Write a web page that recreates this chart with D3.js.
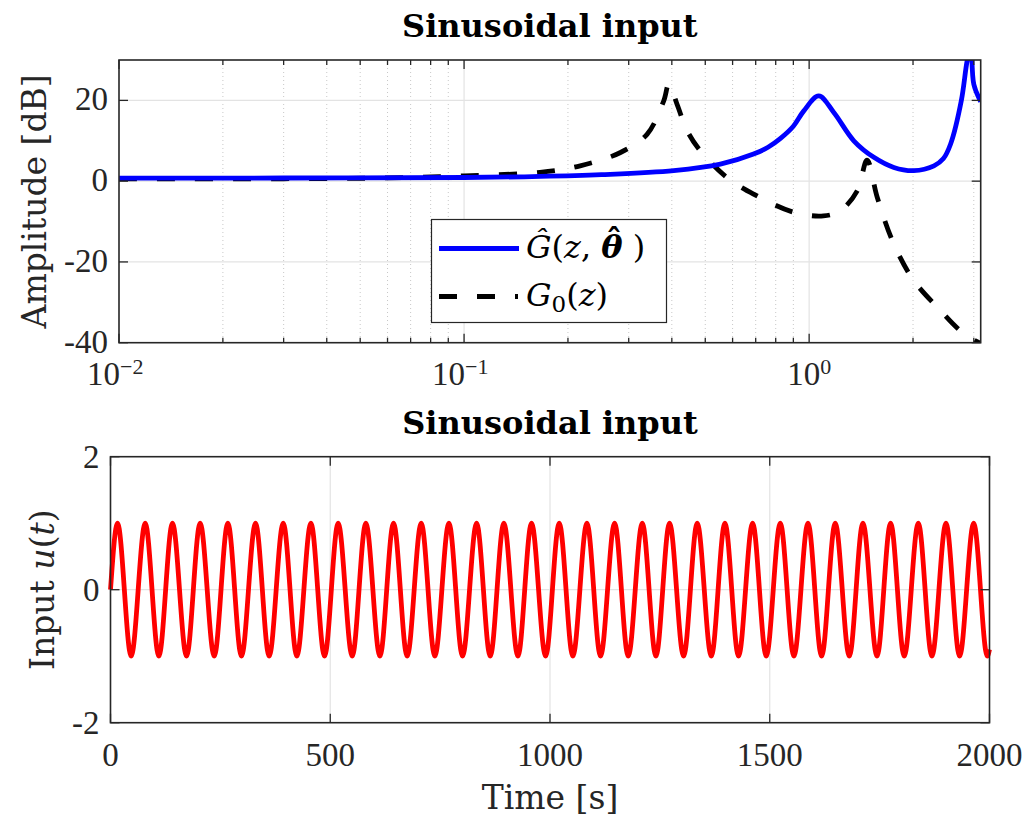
<!DOCTYPE html>
<html>
<head>
<meta charset="utf-8">
<script src="https://cdn.jsdelivr.net/npm/d3@7"></script>
<style>
  body { margin: 0; background: #fff; }
  svg { display: block; }
  .tick-label { font-family: "Liberation Serif", serif; font-size: 33px; fill: #262626; }
  .axis-label { font-family: "DejaVu Serif", serif; font-size: 33px; fill: #262626; }
  .title { font-family: "DejaVu Serif", serif; font-size: 32px; font-weight: bold; fill: #000; }
  .legend-text { font-family: "DejaVu Serif", serif; font-size: 32px; fill: #000; }
</style>
</head>
<body>
<svg id="chart" width="1028" height="820"></svg>
<script>

//////////////// DATA ////////////////

// Frequency response (frequency in rad/sample, amplitude in dB)
var estFreq = [0.01, 0.03, 0.1, 0.166, 0.25, 0.405, 0.553, 0.69, 0.76, 0.826, 0.9, 0.965, 1.066, 1.179,
               1.347, 1.54, 1.76, 2.01, 2.30, 2.45, 2.57, 2.76, 2.87, 2.94, 3.0, 3.1416];
var estAmp  = [0.75, 0.78, 0.9, 1.16, 1.6, 2.6, 4.2, 6.7, 8.4, 10.6, 13.6, 17.4, 21.1, 17.0,
               10.0, 5.9, 3.4, 2.6, 3.8, 5.6, 9.2, 19.9, 29.8, 33.5, 24.0, 19.7];

var trueFreq = [0.01, 0.03, 0.06, 0.1, 0.166, 0.217, 0.284, 0.339, 0.379, 0.392, 0.414, 0.443,
                0.484, 0.578, 0.69, 0.902, 1.10, 1.233, 1.378, 1.472, 1.575, 1.76, 2.01, 2.40,
                2.74, 3.0, 3.1416];
var trueAmp  = [0.55, 0.6, 0.8, 1.3, 2.2, 3.8, 7.1, 11.6, 19.9, 24.0, 19.1, 12.5,
                7.5, 0.9, -3.2, -7.7, -8.6, -7.3, -2.4, 5.2, -4.0, -15.6, -24.6, -32.0,
                -37.0, -39.3, -40.2];

// Input signal: start, every peak / trough, end
var inputTime = [0, 16, 47, 79, 110, 141, 173, 204, 236, 267, 298, 330, 361, 393, 424, 456, 487,
                 518, 550, 581, 613, 644, 675, 707, 738, 770, 801, 833, 864, 895, 927, 958, 990,
                 1021, 1052, 1084, 1115, 1147, 1178, 1210, 1241, 1272, 1304, 1335, 1367, 1398, 1429,
                 1461, 1492, 1524, 1555, 1587, 1618, 1649, 1681, 1712, 1744, 1775, 1806, 1838, 1869,
                 1901, 1932, 1964, 1995, 2000];
var inputValue = [0, 1, -1, 1, -1, 1, -1, 1, -1, 1, -1, 1, -1, 1, -1, 1, -1,
                  1, -1, 1, -1, 1, -1, 1, -1, 1, -1, 1, -1, 1, -1, 1, -1,
                  1, -1, 1, -1, 1, -1, 1, -1, 1, -1, 1, -1, 1, -1,
                  1, -1, 1, -1, 1, -1, 1, -1, 1, -1, 1, -1, 1, -1,
                  1, -1, 1, -1, -0.9];

// Axis limits and ticks
var freqDomain = [0.01, 3.1416],
    ampDomain = [-40, 30],
    ampTicks = [-40, -20, 0, 20],
    freqTickExp = [-2, -1, 0],
    timeDomain = [0, 2000],
    timeTicks = [0, 500, 1000, 1500, 2000],
    inputDomain = [-2, 2],
    inputTicks = [-2, 0, 2];

var titleText = "Sinusoidal input";

//////////////// LAYOUT ////////////////

var axisColor = "#262626",
    gridColor = "#e3e3e3",
    minorGridColor = "#c8c8c8",
    lineWidth = 4.8,
    dashes = "18,20";

var boxA = {left: 119, right: 980.7, top: 60, bottom: 342.7};
var boxB = {left: 110.5, right: 989.5, top: 456.7, bottom: 722.7};

var svg = d3.select("#chart");

var xFreq = d3.scaleLog().domain(freqDomain).range([boxA.left, boxA.right]);
var yAmp = d3.scaleLinear().domain(ampDomain).range([boxA.bottom, boxA.top]);
var xTime = d3.scaleLinear().domain(timeDomain).range([boxB.left, boxB.right]);
var yInput = d3.scaleLinear().domain(inputDomain).range([boxB.bottom, boxB.top]);

var defs = svg.append("defs");
defs.append("clipPath").attr("id", "clipA").append("rect")
    .attr("x", boxA.left).attr("y", boxA.top)
    .attr("width", boxA.right - boxA.left).attr("height", boxA.bottom - boxA.top);
defs.append("clipPath").attr("id", "clipB").append("rect")
    .attr("x", boxB.left - 3).attr("y", boxB.top)
    .attr("width", boxB.right - boxB.left + 6).attr("height", boxB.bottom - boxB.top);

//////////////// TOP: FREQUENCY RESPONSE ////////////////

var allFreqTicks = xFreq.ticks();
var majorFreq = freqTickExp.map(function(e) { return Math.pow(10, e); });
var isMajor = function(f) {
    return majorFreq.some(function(m) { return Math.abs(f / m - 1) < 1e-6; });
};
var minorFreq = allFreqTicks.filter(function(f) { return !isMajor(f); });

var gA = svg.append("g");

// minor grid (dotted)
gA.selectAll(".minor-grid").data(minorFreq).enter().append("line")
    .attr("x1", function(d) { return xFreq(d); }).attr("x2", function(d) { return xFreq(d); })
    .attr("y1", boxA.top).attr("y2", boxA.bottom)
    .attr("stroke", minorGridColor).attr("stroke-width", 1).attr("stroke-dasharray", "1,3");

// major grid
gA.selectAll(".major-grid-x").data(majorFreq.slice(1)).enter().append("line")
    .attr("x1", function(d) { return xFreq(d); }).attr("x2", function(d) { return xFreq(d); })
    .attr("y1", boxA.top).attr("y2", boxA.bottom)
    .attr("stroke", gridColor).attr("stroke-width", 1.2);
gA.selectAll(".major-grid-y").data(ampTicks.slice(1)).enter().append("line")
    .attr("x1", boxA.left).attr("x2", boxA.right)
    .attr("y1", function(d) { return yAmp(d); }).attr("y2", function(d) { return yAmp(d); })
    .attr("stroke", gridColor).attr("stroke-width", 1.2);

// curves
var freqLine = d3.line()
    .x(function(d) { return xFreq(d[0]); })
    .y(function(d) { return yAmp(d[1]); })
    .curve(d3.curveCatmullRom.alpha(0.5));

var curves = gA.append("g").attr("clip-path", "url(#clipA)");
curves.append("path")
    .datum(d3.zip(trueFreq, trueAmp))
    .attr("d", freqLine)
    .attr("fill", "none").attr("stroke", "#000")
    .attr("stroke-width", lineWidth).attr("stroke-dasharray", dashes);
curves.append("path")
    .datum(d3.zip(estFreq, estAmp))
    .attr("d", freqLine)
    .attr("fill", "none").attr("stroke", "#0000ff")
    .attr("stroke-width", lineWidth);

// ticks inside the box, all four sides
var ticksA = gA.append("g").attr("stroke", axisColor).attr("stroke-width", 1.3);
allFreqTicks.forEach(function(f) {
    var len = isMajor(f) ? 9 : 5;
    ticksA.append("line").attr("x1", xFreq(f)).attr("x2", xFreq(f))
        .attr("y1", boxA.bottom).attr("y2", boxA.bottom - len);
    ticksA.append("line").attr("x1", xFreq(f)).attr("x2", xFreq(f))
        .attr("y1", boxA.top).attr("y2", boxA.top + len);
});
ampTicks.forEach(function(a) {
    ticksA.append("line").attr("x1", boxA.left).attr("x2", boxA.left + 9)
        .attr("y1", yAmp(a)).attr("y2", yAmp(a));
    ticksA.append("line").attr("x1", boxA.right).attr("x2", boxA.right - 9)
        .attr("y1", yAmp(a)).attr("y2", yAmp(a));
});

gA.append("rect")
    .attr("x", boxA.left).attr("y", boxA.top)
    .attr("width", boxA.right - boxA.left).attr("height", boxA.bottom - boxA.top)
    .attr("fill", "none").attr("stroke", axisColor).attr("stroke-width", 1.6);

// tick labels
gA.selectAll(".amp-label").data(ampTicks).enter().append("text")
    .attr("class", "tick-label")
    .attr("x", boxA.left - 11).attr("y", function(d) { return yAmp(d) + 10; })
    .attr("text-anchor", "end")
    .text(function(d) { return d; });

freqTickExp.forEach(function(e) {
    var t = gA.append("text").attr("class", "tick-label")
        .attr("x", xFreq(Math.pow(10, e)) - 32 + (e === 0 ? 10 : 0)).attr("y", 385);
    t.append("tspan").text("10");
    t.append("tspan").attr("font-size", "22px").attr("dy", -11)
        .text(e < 0 ? "\u2212" + (-e) : e);
});

// axis label + title
gA.append("text").attr("class", "axis-label")
    .attr("transform", "translate(46," + ((boxA.top + boxA.bottom) / 2) + ") rotate(-90)")
    .attr("text-anchor", "middle")
    .text("Amplitude [dB]");

gA.append("text").attr("class", "title")
    .attr("x", (boxA.left + boxA.right) / 2).attr("y", 37)
    .attr("text-anchor", "middle")
    .text(titleText);

// legend
var legend = gA.append("g");
legend.append("rect")
    .attr("x", 431.5).attr("y", 219.5).attr("width", 235).attr("height", 103)
    .attr("fill", "#fff").attr("stroke", axisColor).attr("stroke-width", 1.2);
legend.append("line")
    .attr("x1", 439).attr("x2", 519).attr("y1", 248.5).attr("y2", 248.5)
    .attr("stroke", "#0000ff").attr("stroke-width", lineWidth);
legend.append("line")
    .attr("x1", 439).attr("x2", 518).attr("y1", 296.5).attr("y2", 296.5)
    .attr("stroke", "#000").attr("stroke-width", lineWidth).attr("stroke-dasharray", dashes);

var l1 = legend.append("text").attr("class", "legend-text").attr("x", 526).attr("y", 258);
l1.append("tspan").attr("font-style", "italic").text("\u011C");
l1.append("tspan").text("(");
l1.append("tspan").attr("font-style", "italic").text("z");
l1.append("tspan").text(", ");
l1.append("tspan").attr("font-style", "italic").attr("font-weight", "bold").text("\u03B8");
// hat over the bold theta, kept inside the same text element
var thetaW = l1.node().getExtentOfChar(5).width;
var hat = l1.append("tspan").attr("font-weight", "bold").attr("dy", -6).text("\u02C6");
var hatW = hat.node().getComputedTextLength();
hat.attr("dx", -(thetaW + hatW) / 2 + 2);
l1.append("tspan").attr("dy", 6).attr("dx", thetaW / 2 - hatW / 2 - 2).text(" )");

var l2 = legend.append("text").attr("class", "legend-text").attr("x", 526).attr("y", 306);
l2.append("tspan").attr("font-style", "italic").text("G");
l2.append("tspan").attr("font-size", "23px").attr("dy", 6).text("0");
l2.append("tspan").attr("dy", -6).text("(");
l2.append("tspan").attr("font-style", "italic").text("z");
l2.append("tspan").text(")");

//////////////// BOTTOM: INPUT SIGNAL ////////////////

var gB = svg.append("g");

gB.selectAll(".grid-x").data(timeTicks.slice(1, -1)).enter().append("line")
    .attr("x1", function(d) { return xTime(d); }).attr("x2", function(d) { return xTime(d); })
    .attr("y1", boxB.top).attr("y2", boxB.bottom)
    .attr("stroke", gridColor).attr("stroke-width", 1.2);
gB.selectAll(".grid-y").data(inputTicks.slice(1, -1)).enter().append("line")
    .attr("x1", boxB.left).attr("x2", boxB.right)
    .attr("y1", function(d) { return yInput(d); }).attr("y2", function(d) { return yInput(d); })
    .attr("stroke", gridColor).attr("stroke-width", 1.2);

var inputLine = d3.line()
    .x(function(d) { return xTime(d[0]); })
    .y(function(d) { return yInput(d[1]); })
    .curve(d3.curveMonotoneX);

gB.append("path")
    .datum(d3.zip(inputTime, inputValue))
    .attr("clip-path", "url(#clipB)")
    .attr("d", inputLine)
    .attr("fill", "none").attr("stroke", "#ff0000")
    .attr("stroke-width", lineWidth);

var ticksB = gB.append("g").attr("stroke", axisColor).attr("stroke-width", 1.3);
timeTicks.forEach(function(t) {
    ticksB.append("line").attr("x1", xTime(t)).attr("x2", xTime(t))
        .attr("y1", boxB.bottom).attr("y2", boxB.bottom - 9);
    ticksB.append("line").attr("x1", xTime(t)).attr("x2", xTime(t))
        .attr("y1", boxB.top).attr("y2", boxB.top + 9);
});
inputTicks.forEach(function(v) {
    ticksB.append("line").attr("x1", boxB.left).attr("x2", boxB.left + 9)
        .attr("y1", yInput(v)).attr("y2", yInput(v));
    ticksB.append("line").attr("x1", boxB.right).attr("x2", boxB.right - 9)
        .attr("y1", yInput(v)).attr("y2", yInput(v));
});

gB.append("rect")
    .attr("x", boxB.left).attr("y", boxB.top)
    .attr("width", boxB.right - boxB.left).attr("height", boxB.bottom - boxB.top)
    .attr("fill", "none").attr("stroke", axisColor).attr("stroke-width", 1.6);

gB.selectAll(".time-label").data(timeTicks).enter().append("text")
    .attr("class", "tick-label")
    .attr("x", function(d) { return xTime(d); }).attr("y", 766)
    .attr("text-anchor", "middle")
    .text(function(d) { return d; });
gB.selectAll(".input-label").data(inputTicks).enter().append("text")
    .attr("class", "tick-label")
    .attr("x", boxB.left - 11).attr("y", function(d) { return yInput(d) + 11; })
    .attr("text-anchor", "end")
    .text(function(d) { return d; });

gB.append("text").attr("class", "axis-label")
    .attr("x", (boxB.left + boxB.right) / 2).attr("y", 809)
    .attr("text-anchor", "middle")
    .text("Time [s]");

var yl = gB.append("text").attr("class", "axis-label")
    .attr("transform", "translate(54," + ((boxB.top + boxB.bottom) / 2) + ") rotate(-90)")
    .attr("text-anchor", "middle");
yl.append("tspan").text("Input ");
yl.append("tspan").attr("font-style", "italic").text("u");
yl.append("tspan").text("(");
yl.append("tspan").attr("font-style", "italic").text("t");
yl.append("tspan").text(")");

gB.append("text").attr("class", "title")
    .attr("x", (boxB.left + boxB.right) / 2).attr("y", 434)
    .attr("text-anchor", "middle")
    .text(titleText);

</script>
</body>
</html>
